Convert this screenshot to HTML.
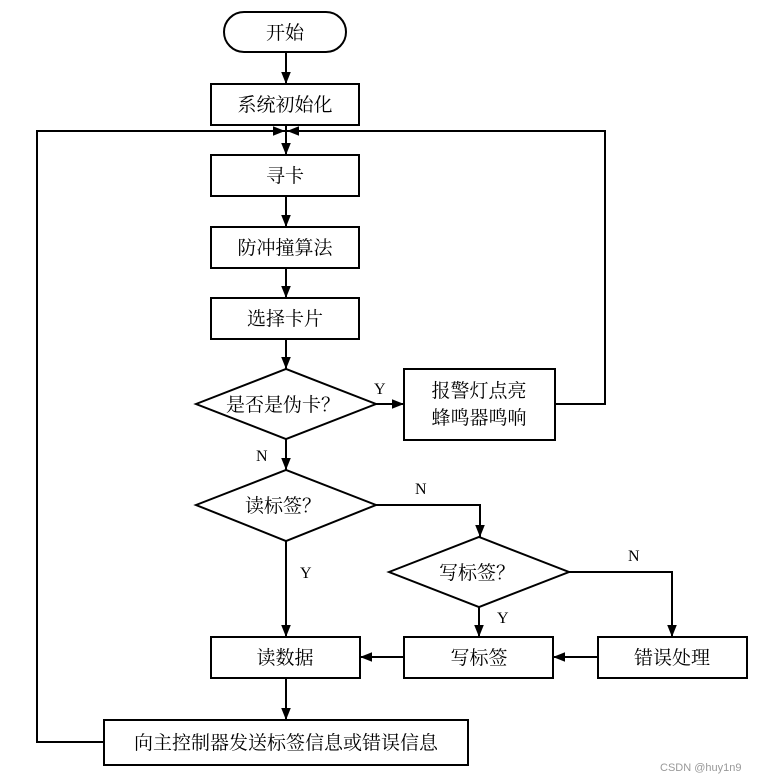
<!DOCTYPE html>
<html><head><meta charset="utf-8"><style>html,body{margin:0;padding:0;background:#fff}</style></head>
<body>
<svg width="784" height="779" viewBox="0 0 784 779" xmlns="http://www.w3.org/2000/svg" font-family="'Liberation Serif','Noto Serif CJK SC','Noto Sans CJK SC',serif" font-size="19">
<defs><marker id="a" viewBox="0 0 10 10" refX="10" refY="5" markerWidth="7" markerHeight="7" orient="auto" markerUnits="userSpaceOnUse"><path d="M0,0L10,5L0,10z" fill="#000"/></marker>
<marker id="b" viewBox="0 0 10 10" refX="10" refY="5" markerWidth="12" markerHeight="12" orient="auto" markerUnits="userSpaceOnUse"><path d="M0,1L10,5L0,9z" fill="#000"/></marker></defs>
<g stroke="#000" stroke-width="2" fill="none">
<rect x="224" y="12" width="122" height="40" rx="20" fill="#fff"/>
<rect x="211" y="84" width="148" height="41"/>
<rect x="211" y="155" width="148" height="41"/>
<rect x="211" y="227" width="148" height="41"/>
<rect x="211" y="298" width="148" height="41"/>
<polygon points="196,404 286,369 376,404 286,439"/>
<rect x="404" y="369" width="151" height="71"/>
<polygon points="196,505 286,470 376,505 286,541"/>
<polygon points="389,572 479,537 569,572 479,607"/>
<rect x="211" y="637" width="149" height="41"/>
<rect x="404" y="637" width="149" height="41"/>
<rect x="598" y="637" width="149" height="41"/>
<rect x="104" y="720" width="364" height="45"/>
<line x1="286" y1="52" x2="286" y2="84" marker-end="url(#b)"/>
<line x1="286" y1="125" x2="286" y2="155" marker-end="url(#b)"/>
<line x1="286" y1="196" x2="286" y2="227" marker-end="url(#b)"/>
<line x1="286" y1="268" x2="286" y2="298" marker-end="url(#b)"/>
<line x1="286" y1="339" x2="286" y2="369" marker-end="url(#b)"/>
<line x1="286" y1="439" x2="286" y2="470" marker-end="url(#b)"/>
<line x1="286" y1="541" x2="286" y2="637" marker-end="url(#b)"/>
<line x1="286" y1="678" x2="286" y2="720" marker-end="url(#b)"/>
<line x1="376" y1="404" x2="404" y2="404" marker-end="url(#b)"/>
<polyline points="555,404 605,404 605,131 287,131" marker-end="url(#b)"/>
<polyline points="104,742 37,742 37,131 285,131" marker-end="url(#b)"/>
<polyline points="376,505 480,505 480,537" marker-end="url(#b)"/>
<line x1="479" y1="607" x2="479" y2="637" marker-end="url(#b)"/>
<polyline points="569,572 672,572 672,637" marker-end="url(#b)"/>
<line x1="404" y1="657" x2="360" y2="657" marker-end="url(#b)"/>
<line x1="598" y1="657" x2="553" y2="657" marker-end="url(#b)"/>
</g>
<g text-anchor="middle" fill="#000">
<text x="285" y="39">开始</text>
<text x="285" y="111">系统初始化</text>
<text x="285" y="182">寻卡</text>
<text x="285" y="254">防冲撞算法</text>
<text x="285" y="325">选择卡片</text>
<text x="283" y="411">是否是伪卡？</text>
<text x="479" y="397">报警灯点亮</text>
<text x="479" y="424">蜂鸣器鸣响</text>
<text x="283" y="512">读标签？</text>
<text x="477" y="579">写标签？</text>
<text x="285" y="664">读数据</text>
<text x="479" y="664">写标签</text>
<text x="672" y="664">错误处理</text>
<text x="286" y="749">向主控制器发送标签信息或错误信息</text>
</g>
<g fill="#000" font-size="16">
<text x="374" y="394">Y</text>
<text x="256" y="461">N</text>
<text x="415" y="494">N</text>
<text x="300" y="578">Y</text>
<text x="497" y="623">Y</text>
<text x="628" y="561">N</text>
</g>
<text x="660" y="771" font-family="'Liberation Sans',sans-serif" font-size="11" fill="#999">CSDN @huy1n9</text>
</svg>
</body></html>
